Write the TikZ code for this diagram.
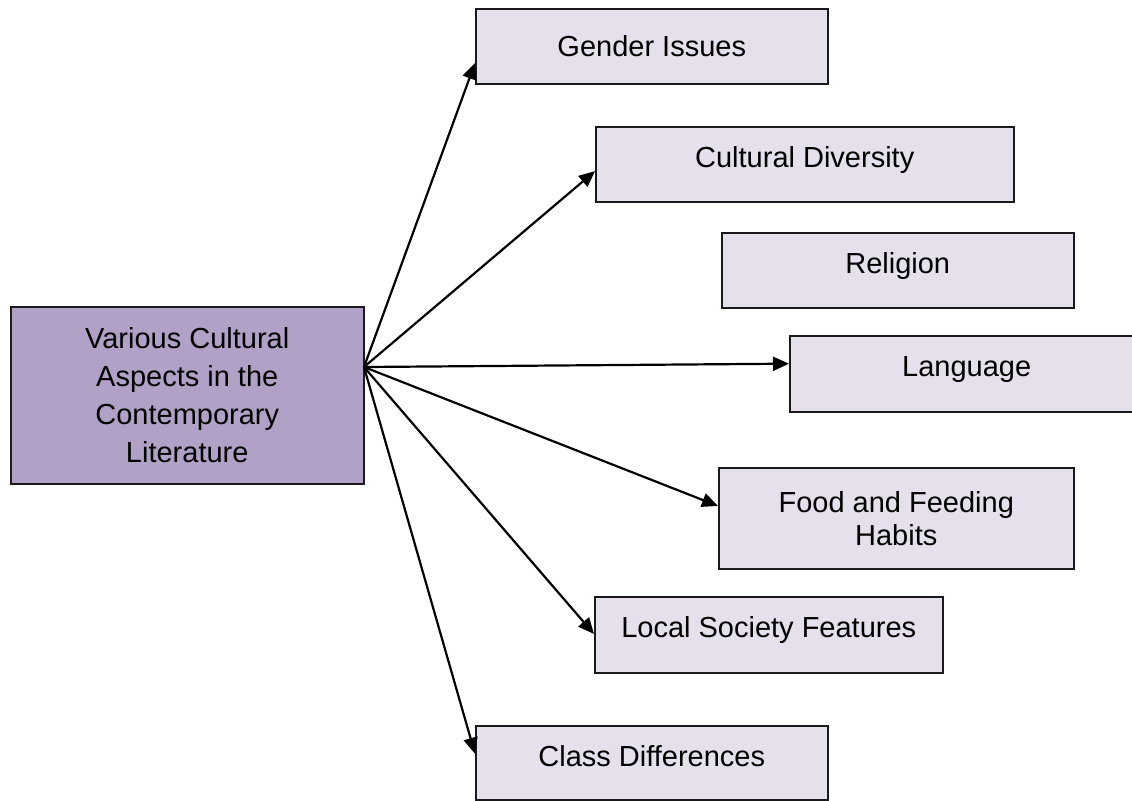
\documentclass[tikz,border=0pt]{standalone}
\usepackage{fontspec}
\setmainfont{Liberation Sans}
\usepackage{tikz}
\usetikzlibrary{positioning, calc}
\usetikzlibrary{arrows.meta}
\definecolor{aspectfill}{HTML}{B2A1C7}
\definecolor{leaffill}{HTML}{E5E0EC}
\definecolor{edgegray}{HTML}{1A1A1A}
\tikzset{
  box/.style={draw=edgegray, line width=0.75pt, rectangle, anchor=north west,
    inner xsep=0pt, inner ysep=0pt, align=center,
    font=\fontsize{14.5}{19}\selectfont},
  leaf/.style={box, fill=leaffill, text height=20.5pt, text depth=17pt},
  link/.style={->, line width=1.1pt}
}

\begin{document}
\begin{tikzpicture}[x=0.5pt,y=-0.5pt,>={Triangle[length=8pt,width=7pt]}]
    \useasboundingbox (0,0) rectangle (1132,800);
    % Centro
    \node[box, fill=aspectfill, minimum width=176.5pt, minimum height=88.5pt]
        (aspects) at (10,306) {Various Cultural\\Aspects in the\\Contemporary\\Literature};
    \coordinate (hub) at (364,367);
    % Riquadri
    \node[leaf, minimum width=176pt, text height=24pt, text depth=13.5pt] (gender) at (475,8) {Gender Issues};
    \node[leaf, minimum width=209pt] (diversity) at (595,126) {Cultural Diversity};
    \node[leaf, minimum width=176pt] (religion) at (721,232) {Religion};
    \node[leaf, minimum width=177pt, text depth=17.5pt] (language) at (789,335) {Language};
    \node[box, fill=leaffill, minimum width=177.5pt, minimum height=50.5pt,
        font=\fontsize{14.5}{16.5}\selectfont] (food) at (718,467) {Food and Feeding\\Habits};
    \node[leaf, minimum width=174pt, text depth=17.5pt] (society) at (594,596) {Local Society Features};
    \node[leaf, minimum width=176pt, text depth=16.5pt] (class) at (475,725) {Class Differences};
    % Frecce
    \draw[link] (hub) -- ($(gender.north west)!0.72!(gender.south west)$);
    \draw[link] (hub) -- ($(diversity.north west)!0.59!(diversity.south west)$);
    \draw[link] (hub) -- ($(language.north west)!0.37!(language.south west)$);
    \draw[link] (hub) -- ($(food.north west)!0.38!(food.south west)$);
    \draw[link] (hub) -- ($(society.north west)!0.49!(society.south west)$);
    \draw[link] (hub) -- ($(class.north west)!0.38!(class.south west)$);
\end{tikzpicture}
\end{document}
